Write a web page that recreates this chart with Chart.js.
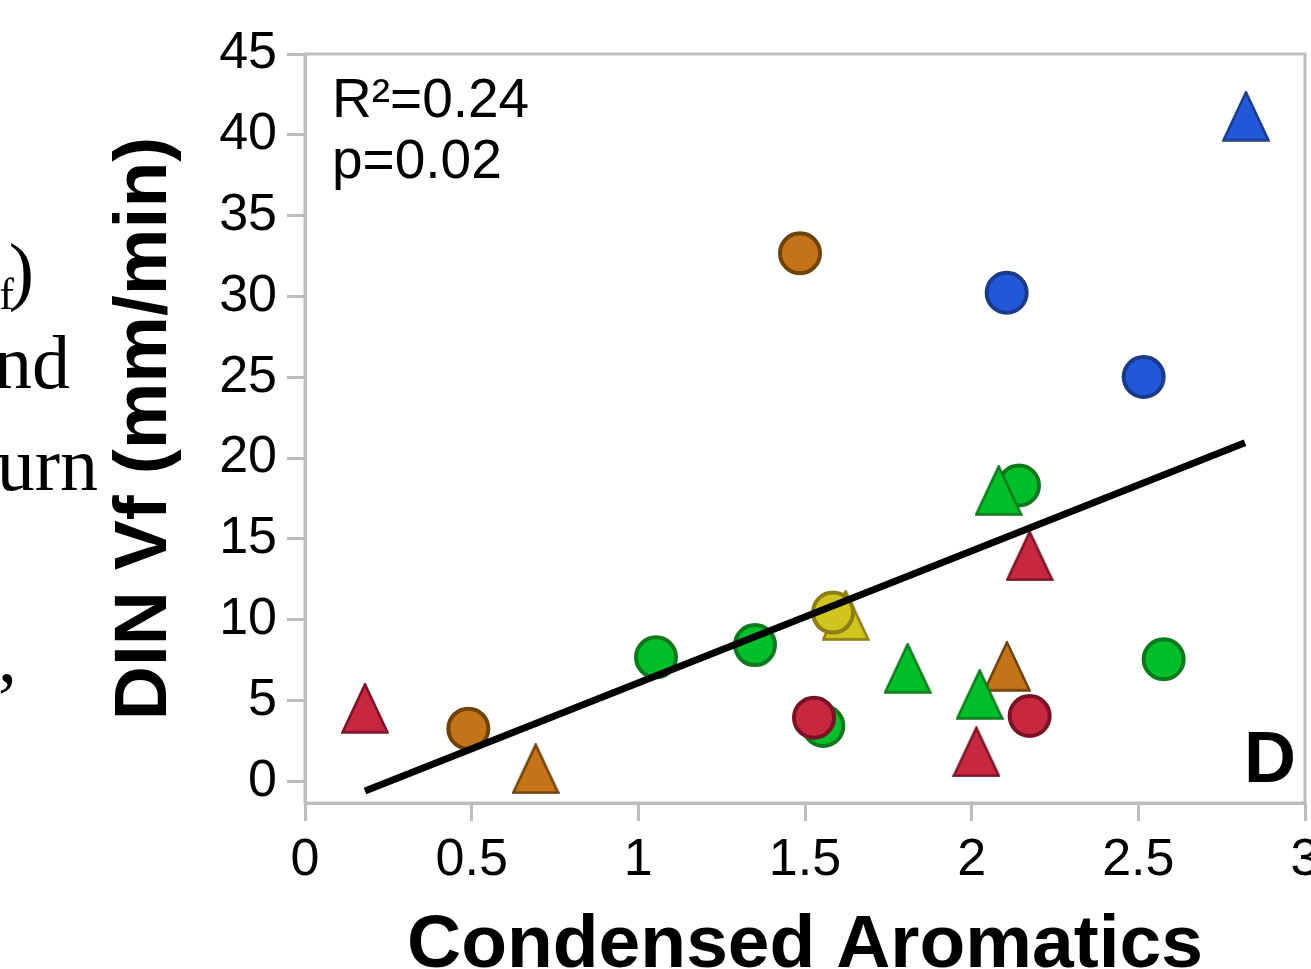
<!DOCTYPE html>
<html>
<head>
<meta charset="utf-8">
<script src="https://cdn.jsdelivr.net/npm/chart.js@4.4.1/dist/chart.umd.min.js"></script>
<style>
  html, body { margin: 0; padding: 0; background: #fff; }
  #wrap { width: 1311px; height: 969px; }
</style>
</head>
<body>
<div id="wrap"><canvas id="scatter"></canvas></div>
<script>
Chart.defaults.font.family = '"Liberation Sans", Arial, sans-serif';
Chart.defaults.color = '#000';

//data
const xTicks = [0, 0.5, 1, 1.5, 2, 2.5, 3];
const yTicks = [0, 5, 10, 15, 20, 25, 30, 35, 40, 45];

const circleX = [1.485, 2.105, 2.516, 2.142, 1.053, 1.35, 1.584, 2.576, 1.555, 1.527, 2.174, 0.49];
const circleY = [32.67, 30.23, 25.02, 18.3, 7.67, 8.43, 10.44, 7.55, 3.42, 3.94, 4.04, 3.26];
const circleGroup = ['orange', 'blue', 'blue', 'green', 'green', 'green', 'yellow', 'green', 'green', 'red', 'red', 'orange'];

const triX = [2.823, 2.081, 2.174, 1.622, 1.808, 2.106, 2.024, 2.014, 0.18, 0.692];
const triY = [41.15, 18.0, 13.95, 10.27, 7.0, 7.12, 5.38, 1.83, 4.52, 0.78];
const triGroup = ['blue', 'green', 'red', 'yellow', 'green', 'orange', 'green', 'red', 'red', 'orange'];

const fitX = [0.18, 2.82];
const fitY = [-0.6, 20.95];

const fills = { blue: '#2158d8', orange: '#c47318', green: '#00bf2a', red: '#c8283f', yellow: '#d2c41e' };
const strokes = { blue: '#1a3a8c', orange: '#6e4209', green: '#0c7a1c', red: '#7a1226', yellow: '#8c7e12' };

// top of the list is drawn last (on top)
const stack = ['fit', 'circle-red', 'circle-yellow', 'tri-green', 'circle-blue', 'circle-orange',
               'tri-red', 'tri-yellow', 'tri-orange', 'circle-green', 'tri-blue'];

function triangle(fill, stroke) {
    const c = document.createElement('canvas');
    c.width = 48; c.height = 51;
    const g = c.getContext('2d');
    g.beginPath();
    g.moveTo(24, 1.5);
    g.lineTo(46.5, 49.5);
    g.lineTo(1.5, 49.5);
    g.closePath();
    g.fillStyle = fill;
    g.fill();
    g.lineWidth = 2.5;
    g.strokeStyle = stroke;
    g.stroke();
    return c;
}

function pick(xs, ys, groups, name) {
    const out = [];
    xs.forEach((x, i) => { if (groups[i] === name) out.push({ x: x, y: ys[i] }); });
    return out;
}

const datasets = [{
    label: 'fit',
    data: fitX.map((x, i) => ({ x: x, y: fitY[i] })),
    showLine: true,
    borderColor: '#000',
    borderWidth: 7,
    pointRadius: 0,
    order: stack.indexOf('fit')
}];

Object.keys(fills).forEach(name => {
    datasets.push({
        label: 'circle-' + name,
        data: pick(circleX, circleY, circleGroup, name),
        pointStyle: 'circle',
        pointRadius: 20,
        borderWidth: 4,
        backgroundColor: fills[name],
        borderColor: strokes[name],
        order: stack.indexOf('circle-' + name)
    });
    datasets.push({
        label: 'tri-' + name,
        data: pick(triX, triY, triGroup, name),
        pointStyle: triangle(fills[name], strokes[name]),
        pointRadius: 24,
        order: stack.indexOf('tri-' + name)
    });
});

// frame + text that sits on the page
const extras = {
    id: 'extras',
    beforeDatasetsDraw(chart) {
        const { ctx, chartArea: a } = chart;
        ctx.save();
        ctx.strokeStyle = '#bdbdbd';
        ctx.lineWidth = 3;
        ctx.strokeRect(a.left, a.top, a.right - a.left, a.bottom - a.top);
        ctx.restore();
    },
    afterDraw(chart) {
        const { ctx, chartArea: a } = chart;
        ctx.save();
        ctx.fillStyle = '#000';
        ctx.textBaseline = 'alphabetic';
        ctx.textAlign = 'left';
        ctx.font = '55px "Liberation Sans"';
        ctx.fillText('R²=0.24', a.left + 27, 117);
        ctx.fillText('p=0.02', a.left + 27, 178);
        ctx.textAlign = 'right';
        ctx.font = 'bold 72px "Liberation Sans"';
        ctx.fillText('D', a.right - 9, a.bottom - 21);
        // cropped body text of the page
        ctx.font = '76px "Liberation Serif"';
        ctx.fillText(')', 34, 296);
        ctx.fillText('nd', 70, 388);
        ctx.fillText('urn', 98, 490);
        ctx.fillText(',', 17, 682);
        ctx.font = '44px "Liberation Serif"';
        ctx.fillText('f', 14, 309);
        ctx.restore();
    }
};

const axisGray = '#bdbdbd';

const config = {
    type: 'scatter',
    data: { datasets: datasets },
    options: {
        responsive: true,
        maintainAspectRatio: false,
        animation: false,
        layout: { autoPadding: false, padding: { top: 54, right: 6, left: 0, bottom: 0 } },
        plugins: {
            legend: { display: false },
            tooltip: { enabled: false }
        },
        scales: {
            x: {
                type: 'linear',
                min: 0,
                max: 3,
                afterBuildTicks: s => { s.ticks = xTicks.map(v => ({ value: v })); },
                afterFit: s => { s.height = 166; s.paddingLeft = 0; s.paddingRight = 0; },
                ticks: { font: { size: 52 }, padding: 8, maxRotation: 0, autoSkip: false, callback: v => String(v) },
                grid: { drawOnChartArea: false, tickLength: 18, tickColor: axisGray, lineWidth: 3 },
                border: { color: axisGray, width: 3 },
                title: {
                    display: true,
                    text: 'Condensed Aromatics',
                    font: { size: 75, weight: 'bold', lineHeight: 1 },
                    padding: { top: 0, bottom: -15 }
                }
            },
            y: {
                type: 'linear',
                min: -1.34,
                max: 45,
                afterBuildTicks: s => { s.ticks = yTicks.map(v => ({ value: v })); },
                afterFit: s => { s.width = 305; s.paddingTop = 0; s.paddingBottom = 0; },
                ticks: { font: { size: 52 }, padding: 10, autoSkip: false, callback: v => String(v) },
                grid: { drawOnChartArea: false, tickLength: 18, tickColor: axisGray, lineWidth: 3 },
                border: { color: axisGray, width: 3 },
                title: {
                    display: true,
                    text: 'DIN Vf (mm/min)',
                    font: { size: 75, weight: 'bold', lineHeight: 1 },
                    padding: { top: 108, bottom: 0 }
                }
            }
        }
    },
    plugins: [extras]
};

const scatter = new Chart(document.getElementById('scatter'), config);
</script>
</body>
</html>
